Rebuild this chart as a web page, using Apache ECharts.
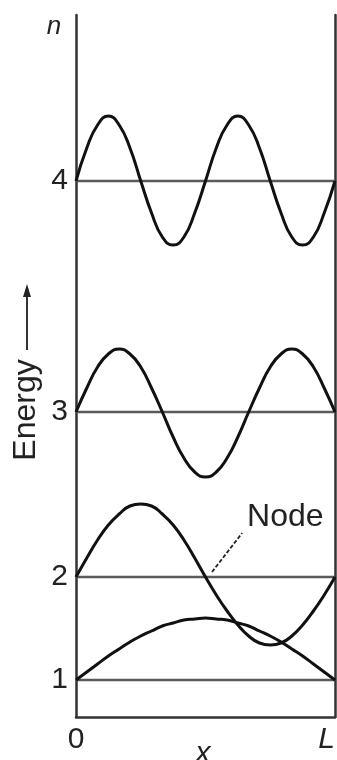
<!DOCTYPE html>
<html><head><meta charset="utf-8">
<script src="https://cdn.jsdelivr.net/npm/echarts@6/dist/echarts.min.js"></script>
<style>html,body{margin:0;padding:0;background:#fff;}#c{width:337px;height:760px;}</style>
</head><body><div id="c"></div>
<script>
// x positions in units of L/24
const xSteps = [0,1,2,3,4,5,6,7,8,9,10,11,12,13,14,15,16,17,18,19,20,21,22,23,24];
const levelNames = ['1','2','3','4'];
const levelEnergy = [3.7, 14.0, 30.5, 53.6];
// wavefunction offsets from each level
const psi1 = [0,0.8,1.6,2.4,3.1,3.8,4.4,4.9,5.4,5.7,6.0,6.1,6.2,6.1,6.0,5.7,5.4,4.9,4.4,3.8,3.1,2.4,1.6,0.8,0];
const psi2 = [0,1.9,3.7,5.2,6.3,7.1,7.3,7.1,6.3,5.2,3.7,1.9,0,-1.8,-3.4,-4.8,-5.9,-6.6,-6.8,-6.6,-5.9,-4.8,-3.4,-1.8,0];
const psi3 = [0,2.4,4.5,5.8,6.3,5.8,4.5,2.4,0,-2.5,-4.6,-6.0,-6.5,-6.0,-4.6,-2.5,0,2.4,4.5,5.8,6.3,5.8,4.5,2.4,0];
const psi4 = [0,3.3,5.6,6.5,5.6,3.3,0,-3.2,-5.6,-6.4,-5.6,-3.2,0,3.3,5.6,6.5,5.6,3.3,0,-3.2,-5.6,-6.4,-5.6,-3.2,0];
const xTickValues = [0, 24];
const xTickLabels = ['0', '{it|L}'];
const nodePointer = [[12.6, 14.5], [15.4, 18.4]];
const nodeLabelPos = [19.4, 20.0];

const psiAll = [psi1, psi2, psi3, psi4];
const FONT = 'Liberation Sans';
const series = [];
levelEnergy.forEach((E, i) => {
  series.push({
    type: 'line', z: 2, symbol: 'none', animation: false,
    data: [[xSteps[0], E], [xSteps[xSteps.length - 1], E]],
    lineStyle: { color: '#5a5a5a', width: 2.5 }
  });
  const s = {
    type: 'line', z: 3, symbol: 'none', smooth: 0.5, animation: false,
    data: xSteps.map((x, k) => [x, E + psiAll[i][k]]),
    lineStyle: { color: '#111', width: 3 }
  };
  if (i === 1) {
    s.markLine = {
      silent: true, symbol: ['none', 'none'], animation: false,
      lineStyle: { color: '#222', width: 1.8, type: [4, 2] },
      label: { show: false },
      data: [[{ coord: nodePointer[0] }, { coord: nodePointer[1] }]]
    };
    s.markPoint = {
      silent: true, symbol: 'circle', symbolSize: 0, animation: false,
      data: [{ coord: nodeLabelPos, value: 'Node' }],
      label: { show: true, position: 'inside', formatter: 'Node', color: '#222', fontSize: 32, fontFamily: FONT }
    };
  }
  series.push(s);
});

const chart = echarts.init(document.getElementById('c'));
chart.setOption({
  animation: false,
  grid: { left: 76, right: 2, top: 15, bottom: 43, outerBoundsMode: 'none', containLabel: false },
  xAxis: {
    type: 'value', min: 0, max: 24,
    axisLine: { show: true, lineStyle: { color: '#333', width: 2.5 } },
    axisTick: { show: false }, splitLine: { show: false },
    axisLabel: {
      customValues: xTickValues, margin: 8, color: '#222', fontSize: 30, fontFamily: FONT,
      alignMaxLabel: 'right',
      formatter: v => xTickLabels[xTickValues.indexOf(v)],
      rich: { it: { fontStyle: 'italic', fontSize: 30, fontFamily: FONT, color: '#222' } }
    }
  },
  yAxis: [{
    type: 'value', min: 0, max: 70.2, position: 'left',
    axisLine: { show: true, lineStyle: { color: '#333', width: 2.5 } },
    axisTick: { show: false }, splitLine: { show: false },
    axisLabel: {
      customValues: levelEnergy, margin: 8, color: '#222', fontSize: 30, fontFamily: FONT,
      formatter: v => levelNames[levelEnergy.indexOf(v)]
    }
  }, {
    type: 'value', min: 0, max: 70.2, position: 'right',
    axisLine: { show: true, lineStyle: { color: '#333', width: 2.5 } },
    axisTick: { show: false }, splitLine: { show: false }, axisLabel: { show: false }
  }],
  graphic: [
    { type: 'text', x: 54, y: 27, style: { text: 'n', fontStyle: 'italic', fontSize: 26, fontFamily: FONT, fill: '#222', align: 'center', verticalAlign: 'middle' } },
    { type: 'text', x: 203, y: 754, style: { text: 'x', fontStyle: 'italic', fontSize: 30, fontFamily: FONT, fill: '#222', align: 'center', verticalAlign: 'middle' } },
    { type: 'text', x: 26, y: 410, rotation: Math.PI / 2, style: { text: 'Energy', fontSize: 32, fontFamily: FONT, fill: '#222', align: 'center', verticalAlign: 'middle' } },
    { type: 'line', shape: { x1: 27, y1: 350, x2: 27, y2: 293 }, style: { stroke: '#333', lineWidth: 2 } },
    { type: 'polygon', shape: { points: [[27, 284], [23, 297], [31, 297]] }, style: { fill: '#222' } }
  ],
  series: series
});
</script>
</body></html>
